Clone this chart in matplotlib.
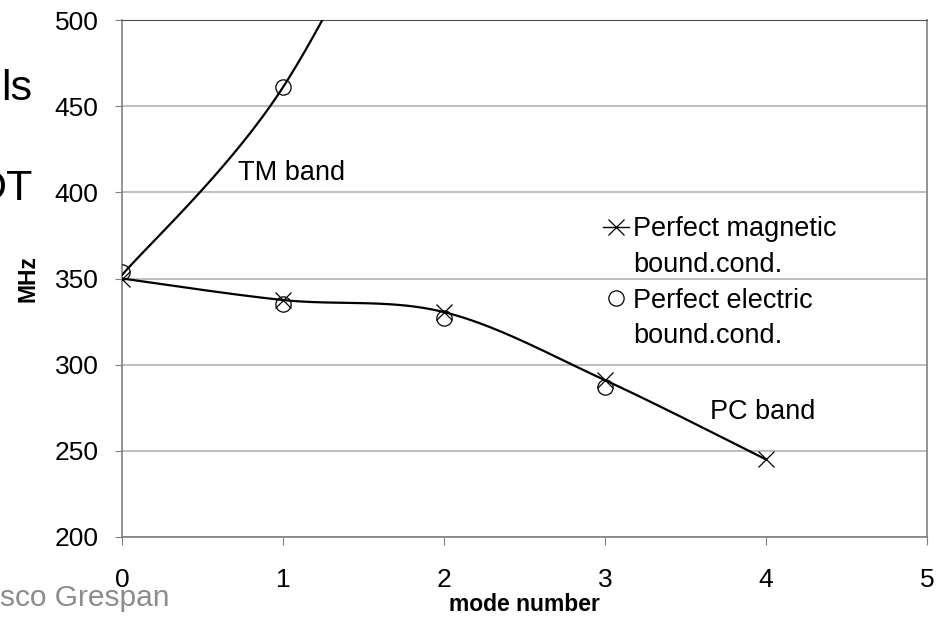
import numpy as np
import matplotlib
matplotlib.use('Agg')
import matplotlib.pyplot as plt
from matplotlib.lines import Line2D

plt.rcParams['font.family'] = ['Liberation Sans', 'DejaVu Sans']

# Perfect magnetic boundary conditions (crosses, PC band line)
pmc_mode = [0, 1, 2, 3, 4]
pmc_mhz = [350, 337.5, 330.5, 291, 245]

# Perfect electric boundary conditions (circles)
pec_mode = [0, 1, 1, 2, 3]
pec_mhz = [354, 461, 335, 327, 287]

# TM band curve
tm_mode = [0, 1, 2]
tm_mhz = [352, 461, 640]

y_ticks = [200, 250, 300, 350, 400, 450, 500]
x_ticks = [0, 1, 2, 3, 4, 5]


def smooth(xs, ys, n=40):
    # Excel-like smoothed line: cubic Bezier between points
    pts = np.column_stack([xs, ys]).astype(float)
    out = []
    for i in range(len(pts) - 1):
        p0 = pts[i - 1] if i > 0 else pts[i]
        p1, p2 = pts[i], pts[i + 1]
        p3 = pts[i + 2] if i + 2 < len(pts) else pts[i + 1]
        c1 = p1 + (p2 - p0) / 6
        c2 = p2 - (p3 - p1) / 6
        t = np.linspace(0, 1, n)[:, None]
        seg = (1 - t) ** 3 * p1 + 3 * (1 - t) ** 2 * t * c1 + 3 * (1 - t) * t ** 2 * c2 + t ** 3 * p2
        out.append(seg)
    return np.vstack(out)


fig = plt.figure(figsize=(9.43, 6.24), dpi=100)
ax = fig.add_axes([122 / 943, 1 - 537 / 624, 805 / 943, 517 / 624])

pc = smooth(pmc_mode, pmc_mhz)
ax.plot(pc[:, 0], pc[:, 1], color='black', lw=1.6, zorder=3)
tm = smooth(tm_mode, tm_mhz)
ax.plot(tm[:, 0], tm[:, 1], color='black', lw=1.6, zorder=3)

ax.plot(pmc_mode, pmc_mhz, ls='none', marker='x', ms=11, mew=0.9, color='black', zorder=4)
ax.plot(pec_mode, pec_mhz, ls='none', marker='o', ms=11, mew=0.9, mfc='none', mec='black', zorder=4)

ax.set_xlim(0, 5)
ax.set_ylim(200, 500)
ax.set_xticks(x_ticks)
ax.set_yticks(y_ticks)
ax.yaxis.grid(True, color='#b4b4b4', lw=1.2)
ax.set_axisbelow(True)
for s in ['left', 'bottom', 'right']:
    ax.spines[s].set_color('#808080')
    ax.spines[s].set_linewidth(1.2)
ax.spines['top'].set_color('#505050')
ax.tick_params(axis='y', direction='out', length=5, color='#808080', labelsize=19, pad=12)
ax.tick_params(axis='x', direction='out', length=6, color='#808080', labelsize=19, pad=16)

ax.set_xlabel('mode number', fontsize=16.5, fontweight='bold', labelpad=1)
ax.set_ylabel('MHz', fontsize=16.5, fontweight='bold', labelpad=11)

ax.text(0.72, 411, 'TM band', fontsize=19.5, va='center')
ax.text(3.65, 272.5, 'PC band', fontsize=19.5, va='center')

blank = Line2D([], [], ls='none')
handles = [
    Line2D([], [], color='black', lw=1, marker='x', ms=11, mew=0.9),
    blank,
    Line2D([], [], ls='none', marker='o', ms=11, mew=0.9, mfc='none', mec='black'),
    blank,
]
labels = ['Perfect magnetic', 'bound.cond.', 'Perfect electric', 'bound.cond.']
ax.legend(handles, labels, loc='upper left', bbox_to_anchor=((603 - 122) / 805, (537 - 216) / 517),
          frameon=False, fontsize=19.5, handlelength=0.95, handletextpad=0.15,
          labelspacing=0.36, borderpad=0, borderaxespad=0)

# slide text cut off at the left edge
fig.text(32 / 943, 1 - 100 / 624, 'ls', ha='right', va='baseline', fontsize=31)
fig.text(33 / 943, 1 - 200 / 624, 'DT', ha='right', va='baseline', fontsize=31)
fig.text(170 / 943, 1 - 606 / 624, 'sco Grespan', ha='right', va='baseline', fontsize=21.5, color='#8c8c8c')

fig.savefig('out.png', dpi=100)
